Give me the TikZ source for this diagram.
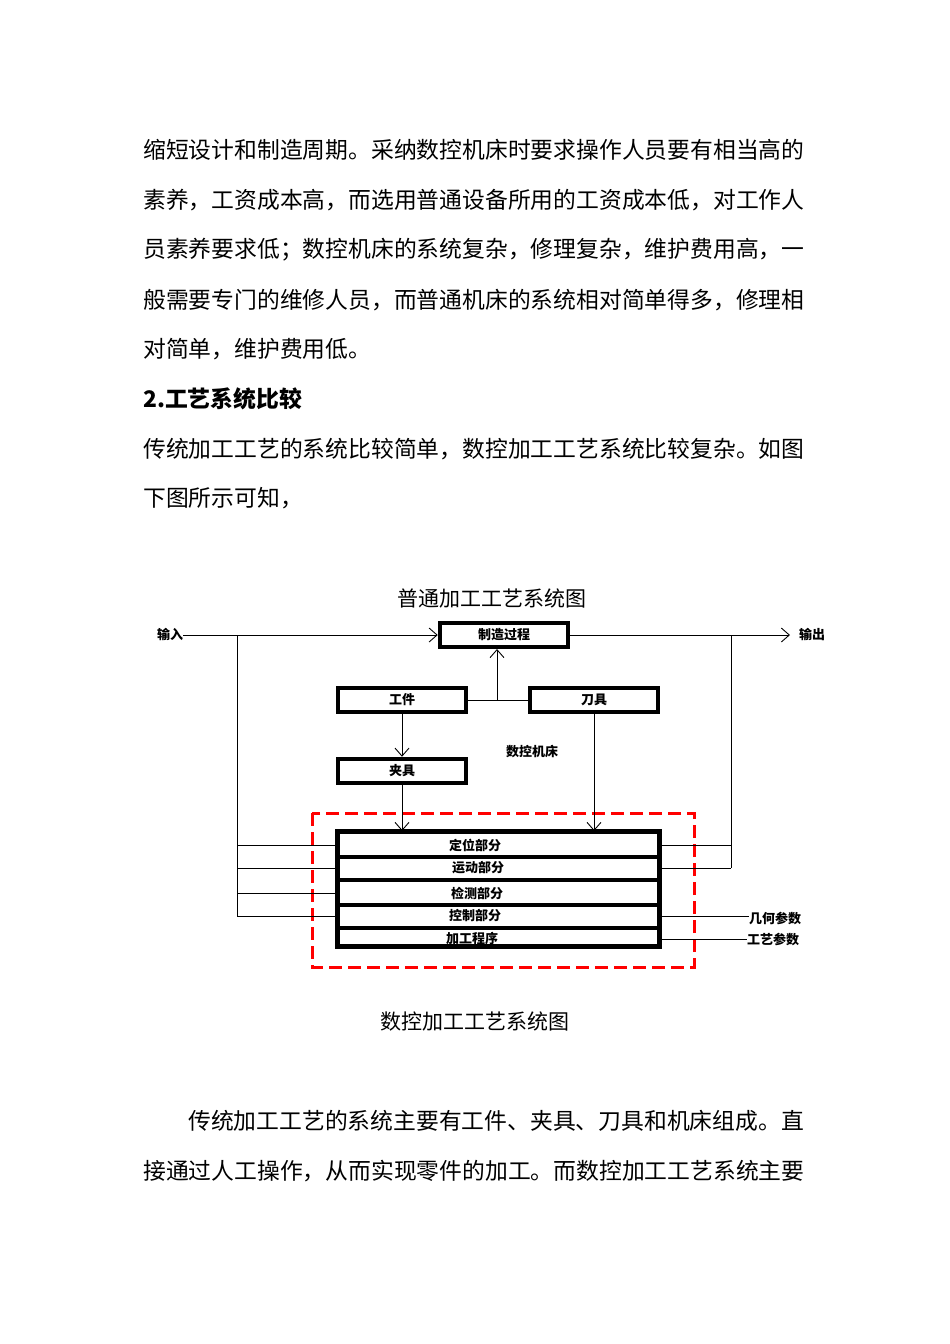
\documentclass[tikz,border=0pt]{standalone}
\usepackage{fontspec}
\setmainfont{Noto Sans CJK SC}
\usetikzlibrary{arrows.meta}
\begin{document}
\begin{tikzpicture}[x=1pt,y=-1pt,
  para/.style={anchor=west,inner sep=0,font=\fontsize{22.8}{26}\selectfont},
  captxt/.style={inner sep=0,font=\fontsize{21}{24}\selectfont},
  box/.style={draw,line width=4.5pt,inner sep=0,minimum width=128pt,minimum height=24pt,font=\bfseries\fontsize{13}{15}\selectfont},
  lbl/.style={inner sep=0,font=\bfseries\fontsize{13}{15}\selectfont},
  ln/.style={line width=0.9pt},
  arr/.style={ln,-{Straight Barb[length=8pt,width=14pt]}}]
\useasboundingbox[fill=white] (0,0) rectangle (950,1344);
\node[para] (p1) at (143,150) {缩短设计和制造周期。采纳数控机床时要求操作人员要有相当高的};
\node[para] (p2) at (143,200) {素养，工资成本高，而选用普通设备所用的工资成本低，对工作人};
\node[para] (p3) at (143,250) {员素养要求低；数控机床的系统复杂，修理复杂，维护费用高，一};
\node[para] (p4) at (143,300) {般需要专门的维修人员，而普通机床的系统相对简单得多，修理相};
\node[para] (p5) at (143,349) {对简单，维护费用低。};
\node[para,font=\bfseries\fontsize{22.8}{26}\selectfont] (h) at (143,399) {2.工艺系统比较};
\node[para] (p6) at (143,449) {传统加工工艺的系统比较简单，数控加工工艺系统比较复杂。如图};
\node[para] (p7) at (143,498) {下图所示可知，};
\node[captxt] (t1) at (492,598) {普通加工工艺系统图};
\node[captxt] (t2) at (475,1021) {数控加工工艺系统图};
\node[para] (p8) at (188,1121) {传统加工工艺的系统主要有工件、夹具、刀具和机床组成。直};
\node[para] (p9) at (143,1171) {接通过人工操作，从而实现零件的加工。而数控加工工艺系统主要};

% diagram
\node[lbl] (in) at (170,634) {输入};
\node[lbl] (out) at (812,634) {输出};
\node[box] (mfg) at (504,635) {制造过程};
\node[box] (wp) at (402,700) {工件};
\node[box] (tool) at (594,700) {刀具};
\node[box] (fix) at (402,771) {夹具};
\node[lbl] (cnc) at (532,752) {数控机床};
\draw[red,line width=3pt,dash pattern=on 13pt off 6pt] (312,813) rectangle (694,967);
\node[draw,line width=4.5pt,minimum width=322pt,minimum height=115pt,inner sep=0] (big) at (498.5,889) {};
\foreach \yy in {857,880,905,928} \draw[line width=3.5pt] (338,\yy) -- (659,\yy);
\node[lbl] (r1) at (475,845) {定位部分};
\node[lbl] (r2) at (478,868) {运动部分};
\node[lbl] (r3) at (477,893) {检测部分};
\node[lbl] (r4) at (475,916) {控制部分};
\node[lbl] (r5) at (472,939) {加工程序};
\node[lbl] (g1) at (775,918) {几何参数};
\node[lbl] (g2) at (773,939) {工艺参数};
\coordinate (L) at (237,635);
\coordinate (R) at (731,635);
\coordinate (E) at (790,635);
\draw[arr] (in.east |- mfg.west) -- (mfg.west);
\draw[arr] (mfg.east) -- (E);
\draw[ln] (L) -- (237,916);
\foreach \yy in {845,868,893,916} \draw[ln] (237,\yy) -- (337,\yy);
\draw[ln] (R) -- (731,868);
\foreach \yy in {845,868} \draw[ln] (660,\yy) -- (731,\yy);
\draw[ln] (660,916) -- (g1.west |- 0,916);
\draw[ln] (660,939) -- (g2.west |- 0,939);
\draw[ln] (wp.east) -- (tool.west);
\draw[arr] (497,700) -- (497,649);
\draw[arr] (wp.south) -- (fix.north);
\draw[arr] (fix.south) -- (402,831);
\draw[arr] (tool.south) -- (594,831);
\end{tikzpicture}
\end{document}
